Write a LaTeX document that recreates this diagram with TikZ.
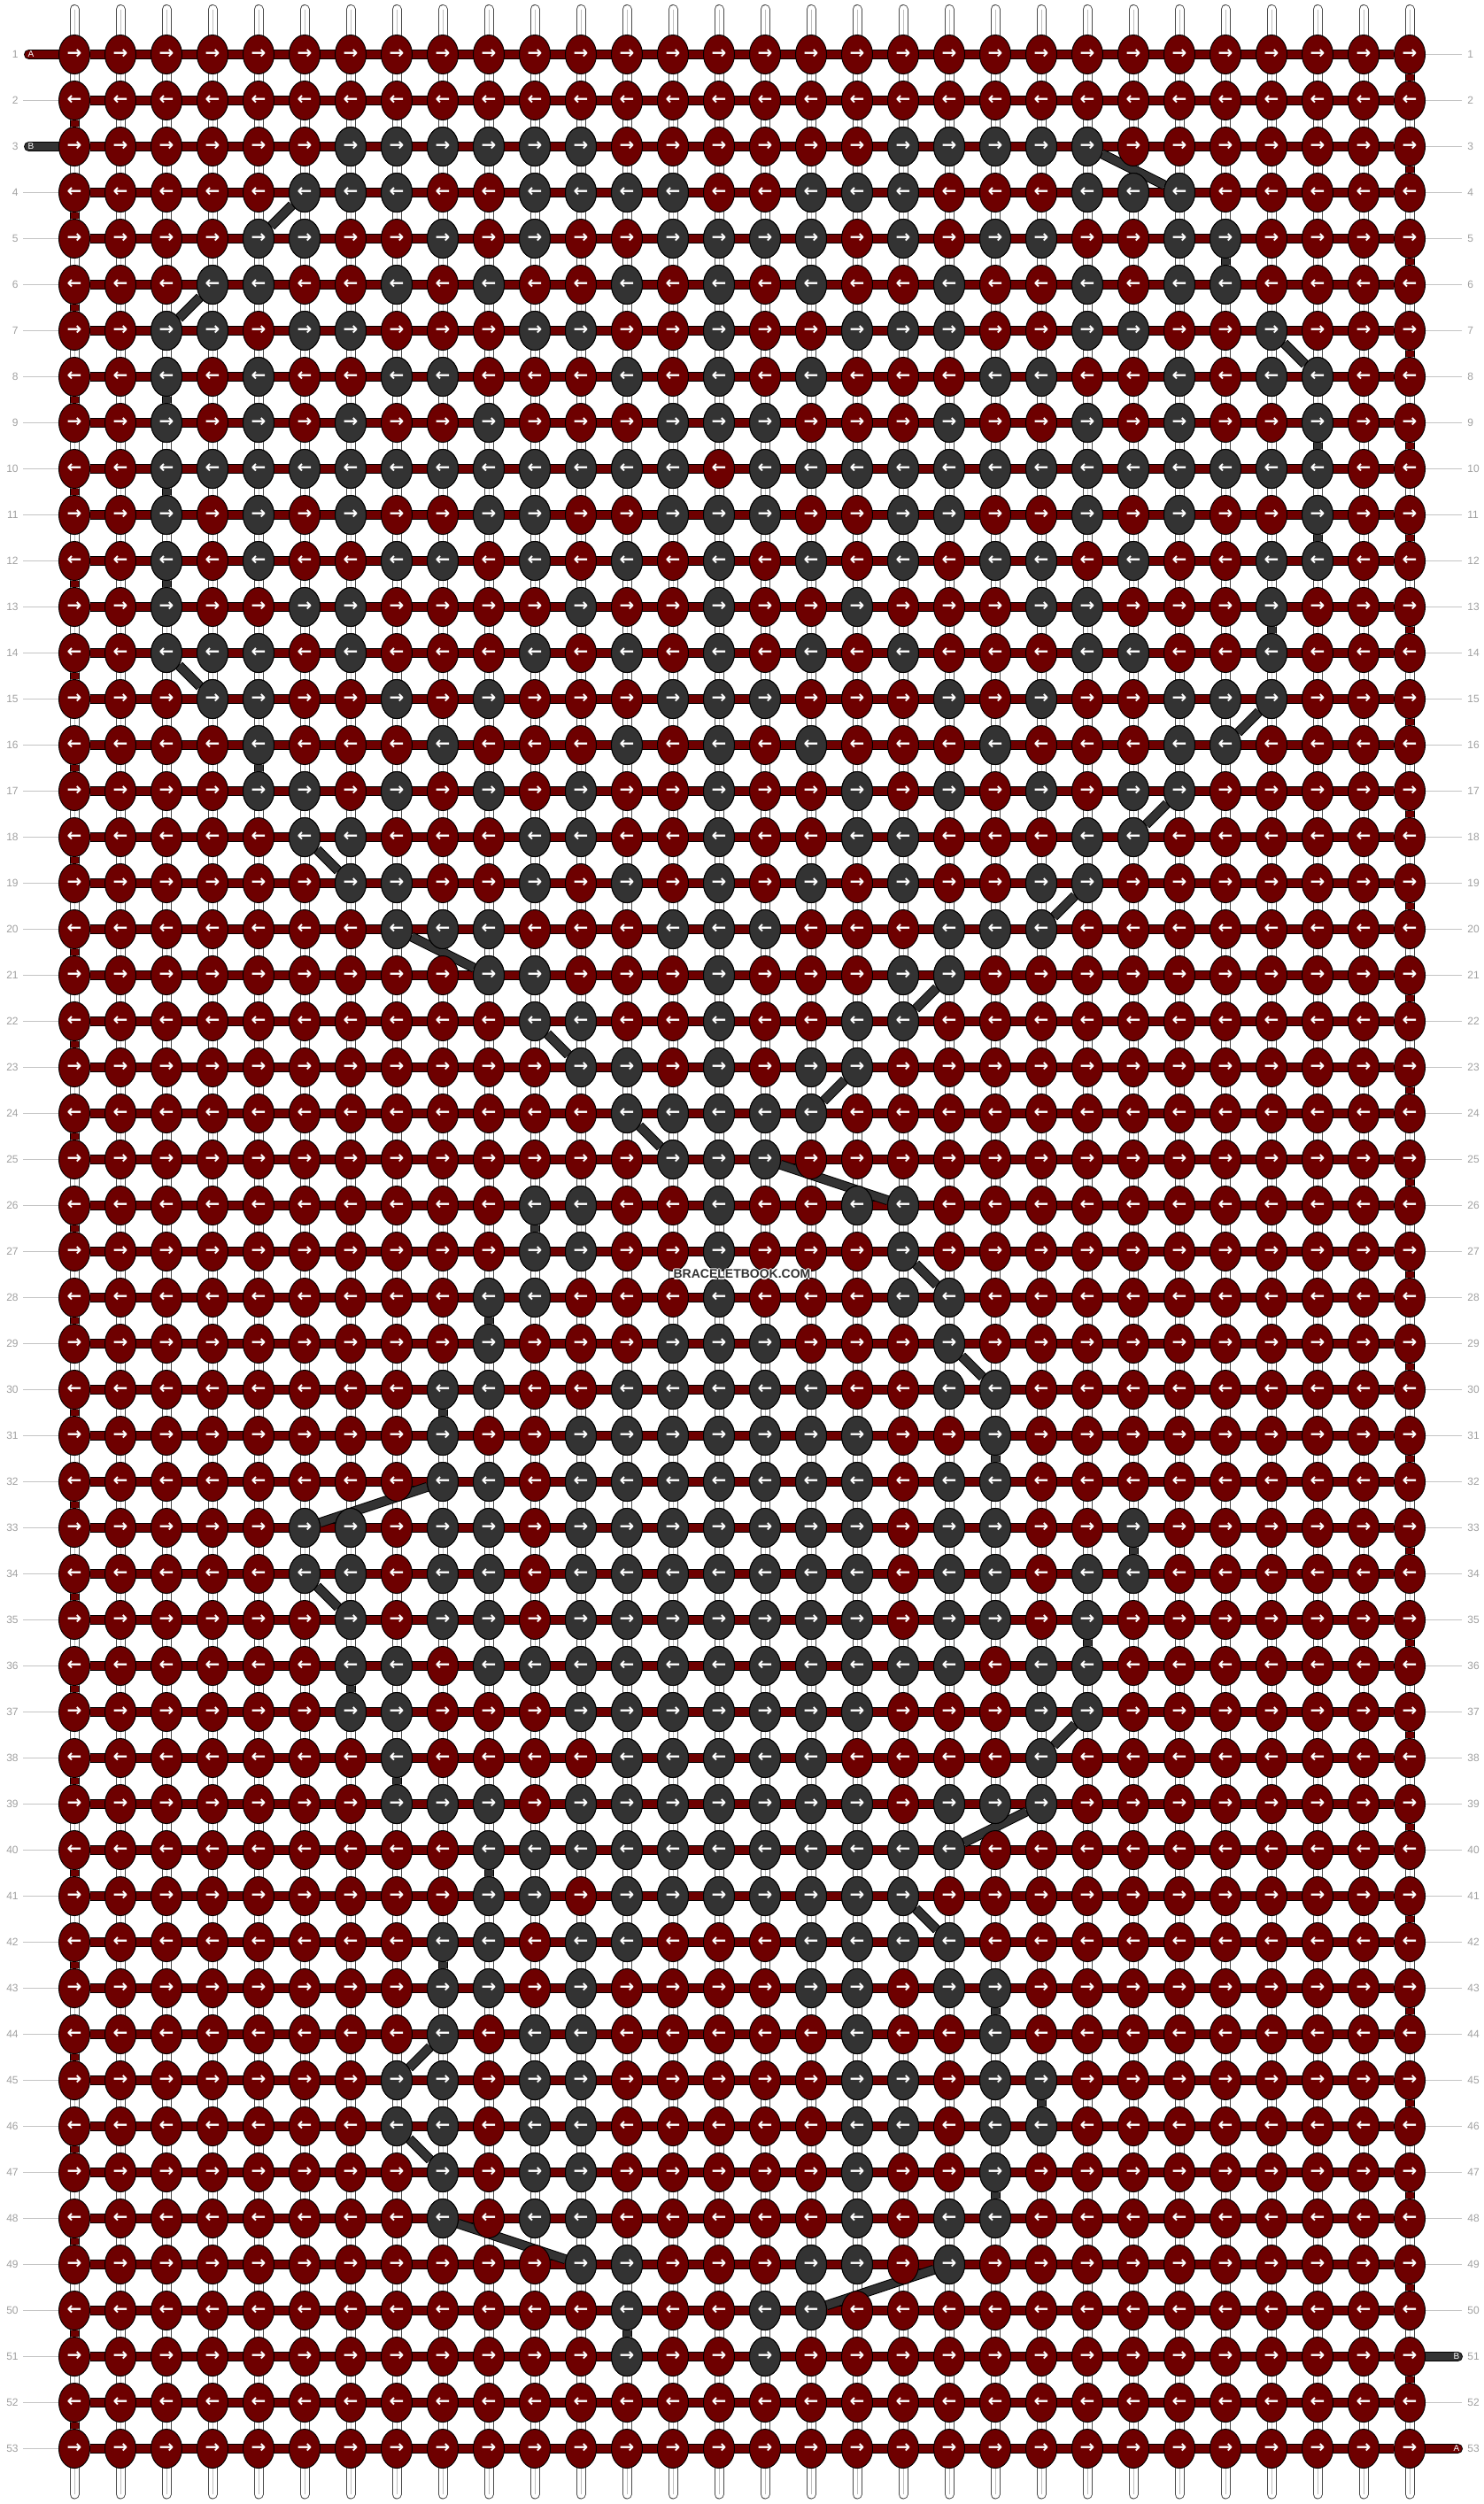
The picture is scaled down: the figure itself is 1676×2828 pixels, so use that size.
\documentclass[tikz,border=0pt]{standalone}
\usepackage{fontspec}
\setmainfont{Liberation Sans}
\newfontfamily\arrowfont{DejaVu Sans}
\usetikzlibrary{shapes.geometric,backgrounds}

\definecolor{knotred}{HTML}{6E0000}
\definecolor{knotgray}{HTML}{333333}
\definecolor{numgray}{HTML}{A0A0A0}
\definecolor{tickgray}{HTML}{C4C4C4}

\newcommand\knotarrow[1]{\ifodd#1 →\else ←\fi}
\newcommand\halotext[1]{\leavevmode
  \rlap{\color{white}\kern-0.8pt #1}\rlap{\color{white}\kern0.8pt #1}%
  \rlap{\color{white}\raisebox{0.8pt}{#1}}\rlap{\color{white}\raisebox{-0.8pt}{#1}}#1}

\begin{document}
\begin{tikzpicture}[x=0.5pt,y=-0.5pt,
  knot/.style={ellipse, draw=black, line width=0.5pt, minimum width=17.5pt,
    minimum height=22pt, inner sep=0pt, text=white,
    font=\arrowfont\bfseries\fontsize{10}{10}\selectfont},
  knotA/.style={knot, fill=knotred},
  knotB/.style={knot, fill=knotgray},
  warp/.style={draw=black!70, line width=0.5pt, double=white, double distance=4.5pt, line cap=round},
  warpcore/.style={draw=black!25, line width=0.3pt},
  threadA/.style={draw=black, line width=0.5pt, double=knotred, double distance=4.5pt},
  threadB/.style={draw=black, line width=0.5pt, double=knotgray, double distance=4.5pt},
  rownum/.style={text=numgray, inner sep=0pt, font=\fontsize{6}{6}\selectfont},
  rowtick/.style={draw=tickgray, line width=0.5pt},
  tablabel/.style={text=white, inner sep=0pt, font=\fontsize{5}{5}\selectfont},
  logo/.style={text=knotgray, inner sep=0pt, font=\bfseries\fontsize{7}{7}\selectfont}]
  \useasboundingbox (0,0) rectangle (1676,2828);

  \foreach \r in {1,...,53}{
    \foreach \c in {1,...,30}
      \node[knotA] (k-\r-\c) at ({32+52*\c},{9.5+52*\r}) {\knotarrow{\r}};
  }

  \foreach \r/\cols in {
      3/{7,8,9,10,11,12,19,20,21,22,23},
      4/{6,7,8,11,12,13,14,17,18,19,23,24,25},
      5/{5,6,9,11,14,15,16,17,19,21,22,25,26},
      6/{4,5,8,10,13,15,17,20,23,25,26},
      7/{3,4,6,7,11,12,15,18,19,20,23,24,27},
      8/{3,5,8,9,13,15,17,21,22,25,27,28},
      9/{3,5,7,10,14,15,16,20,23,25,28},
      10/{3,4,5,6,7,8,9,10,11,12,13,14,16,17,18,19,20,21,22,23,24,25,26,27,28},
      11/{3,5,7,10,11,14,15,16,19,20,23,25,28},
      12/{3,5,8,9,11,13,15,17,19,21,22,24,27,28},
      13/{3,6,7,12,15,18,22,23,27},
      14/{3,4,5,7,11,13,15,17,19,23,24,27},
      15/{4,5,8,10,14,15,16,20,22,25,26,27},
      16/{5,9,13,15,17,21,25,26},
      17/{5,6,8,10,12,15,18,20,22,24,25},
      18/{6,7,11,12,15,18,19,23,24},
      19/{7,8,11,13,15,17,19,22,23},
      20/{8,9,10,14,15,16,20,21,22},
      21/{10,11,15,19,20},
      22/{11,12,15,18,19},
      23/{12,13,15,17,18},
      24/{13,14,15,16,17},
      25/{14,15,16},
      26/{11,12,15,18,19},
      27/{11,12,15,19},
      28/{10,11,15,19,20},
      29/{10,14,15,16,20},
      30/{9,10,13,14,15,16,17,20,21},
      31/{9,12,13,14,15,16,17,18,21},
      32/{9,10,12,13,14,15,16,17,18,20,21},
      33/{6,7,9,10,12,13,14,15,16,17,18,20,21,24},
      34/{6,7,9,10,12,13,14,15,16,17,18,20,21,23,24},
      35/{7,9,10,12,13,14,15,16,17,18,20,21,23},
      36/{7,8,10,11,12,13,14,15,16,17,18,19,20,22,23},
      37/{7,8,12,13,14,15,16,17,18,22,23},
      38/{8,13,14,15,16,17,22},
      39/{8,9,10,12,13,14,15,16,17,18,20,21,22},
      40/{10,11,12,13,14,15,16,17,18,19,20},
      41/{10,11,13,14,15,16,17,18,19},
      42/{9,10,12,13,17,18,19,20},
      43/{9,10,12,17,18,20,21},
      44/{9,11,12,18,21},
      45/{8,9,11,12,18,19,21,22},
      46/{8,9,11,12,18,19,21,22},
      47/{9,11,12,18,21},
      48/{9,11,12,18,20,21},
      49/{12,13,17,18,20},
      50/{13,16,17},
      51/{13,16}}{
    \foreach \c in \cols
      \node[knotB] (k-\r-\c) at ({32+52*\c},{9.5+52*\r}) {\knotarrow{\r}};
  }

  \foreach \r in {1,...,53}{
    \node[rownum, anchor=east] (ln-\r) at (21,{9.5+52*\r}) {\r};
    \node[rownum, anchor=west] (rn-\r) at (1657,{9.5+52*\r}) {\r};
  }

  \node[tablabel] (tabA-in) at (35,61.5) {A};
  \node[tablabel] (tabB-in) at (35,165.5) {B};
  \node[tablabel] (tabB-out) at (1645,2661.5) {B};
  \node[tablabel] (tabA-out) at (1645,2765.5) {A};
  \coordinate (endA-in) at (32.5,61.5);
  \coordinate (endB-in) at (32.5,165.5);
  \coordinate (endB-out) at (1646.5,2661.5);
  \coordinate (endA-out) at (1646.5,2765.5);

  \node[logo] (site) at (838,1439) {\halotext{BRACELETBOOK.COM}};

  \begin{pgfonlayer}{background}
    \foreach \c in {1,...,30}{
      \coordinate (wt-\c) at ({32+52*\c},10.5);
      \coordinate (wb-\c) at ({32+52*\c},2817);
      \draw[warp] (wt-\c) -- (wb-\c);
      \draw[warpcore] (wt-\c) -- (wb-\c);
    }

    \foreach \r in {1,...,53}
      \draw[threadA] (k-\r-1) -- (k-\r-30);
    \foreach \r in {1,...,52}{
      \pgfmathtruncatemacro\nr{\r+1}
      \ifodd\r
        \draw[threadA] (k-\r-30) -- (k-\nr-30);
      \else
        \draw[threadA] (k-\r-1) -- (k-\nr-1);
      \fi
    }

    \draw[threadA, line cap=round] (endA-in) -- (k-1-1);
    \draw[threadB, line cap=round] (endB-in) -- (k-3-1);
    \draw[threadB, line cap=round] (endB-out) -- (k-51-30);
    \draw[threadA, line cap=round] (endA-out) -- (k-53-30);

    \foreach \r/\ca/\cb in {3/23/25, 4/6/5, 5/26/26, 6/4/3, 7/27/28, 8/3/3,
        9/28/28, 10/3/3, 11/28/28, 12/3/3, 13/27/27, 14/3/4, 15/27/26,
        16/5/5, 17/25/24, 18/6/7, 19/23/22, 20/8/10, 21/20/19, 22/11/12,
        23/18/17, 24/13/14, 25/16/19, 26/11/11, 27/19/20, 28/10/10,
        29/20/21, 30/9/9, 31/21/21, 32/9/6, 33/24/24, 34/6/7, 35/23/23,
        36/7/7, 37/23/22, 38/8/8, 39/22/20, 40/10/10, 41/19/20, 42/9/9,
        43/21/21, 44/9/8, 45/22/22, 46/8/9, 47/21/21, 48/9/12, 49/20/17,
        50/13/13}{
      \pgfmathtruncatemacro\nr{\r+1}
      \draw[threadB] (k-\r-\ca) -- (k-\nr-\cb);
    }

    \foreach \r in {1,...,53}{
      \ifnum\r=1 \else\ifnum\r=3 \else
        \draw[rowtick, shorten <=2.5pt] (ln-\r.east) -- (k-\r-1);
      \fi\fi
      \ifnum\r=51 \else\ifnum\r=53 \else
        \draw[rowtick, shorten <=3pt] (rn-\r.west) -- (k-\r-30);
      \fi\fi
    }
  \end{pgfonlayer}
\end{tikzpicture}
\end{document}
